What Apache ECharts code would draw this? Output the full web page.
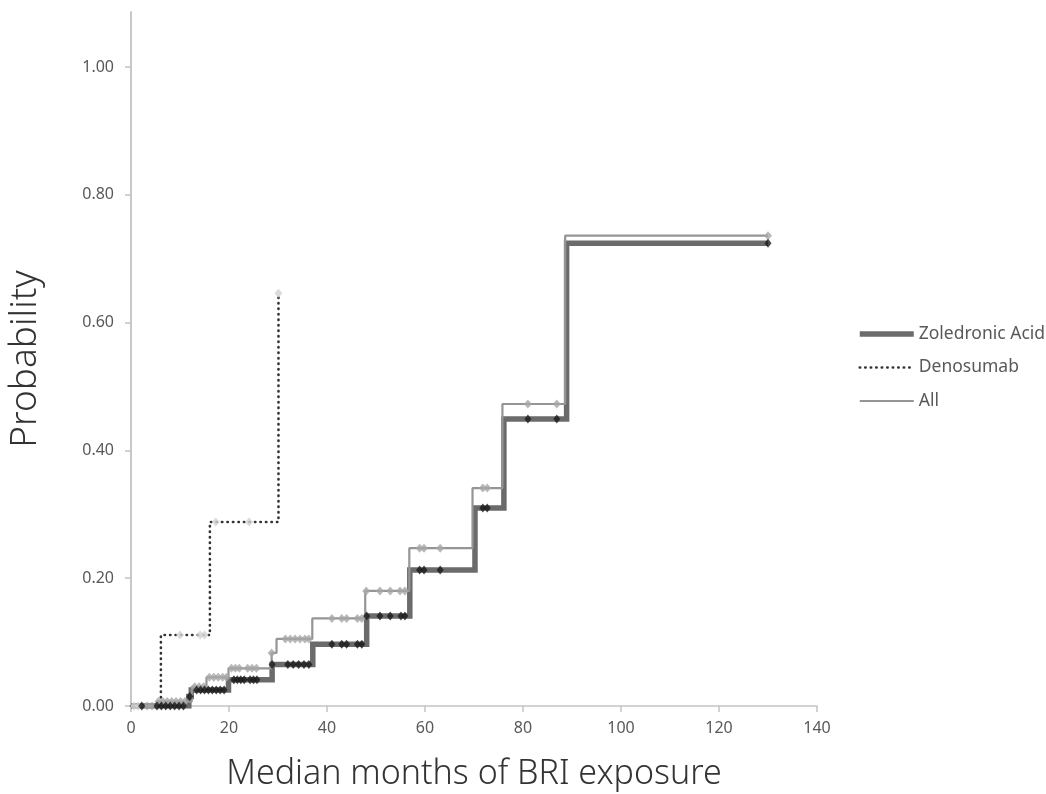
<!DOCTYPE html>
<html>
<head>
<meta charset="utf-8">
<script src="https://cdn.jsdelivr.net/npm/echarts@6/dist/echarts.min.js"></script>
<style>
html,body{margin:0;padding:0;background:#fff;}
#chart{width:1046px;height:794px;}
</style>
</head>
<body>
<div id="chart"></div>
<script>
// ---- data (months, cumulative probability) ----
const seriesNames = ['Zoledronic Acid', 'Denosumab', 'All'];
const xTicks = [0, 20, 40, 60, 80, 100, 120, 140];
const yTicks = [0, 0.2, 0.4, 0.6, 0.8, 1.0];

// step curves: [month at which value changes, new value]
const zolSteps = [[0,0],[11.8,0.015],[12.3,0.025],[19.9,0.041],[28.8,0.065],[37.1,0.0965],[48.1,0.141],[56.9,0.213],[70.2,0.310],[76.1,0.449],[88.9,0.724],[130,0.724]];
const denoSteps = [[0,0],[6.1,0.111],[16.1,0.288],[30.1,0.646]];
const allSteps = [[0,0],[5.4,0.007],[12.4,0.030],[15.4,0.045],[19.9,0.059],[28.7,0.083],[29.7,0.105],[37.0,0.137],[47.8,0.180],[56.8,0.247],[69.7,0.341],[75.8,0.4726],[88.6,0.736],[130,0.736]];

// censored observations (markers)
const zolCensored = [[2.2,0],[5.3,0],[6.2,0],[7.1,0],[8.0,0],[8.9,0],[9.8,0],[10.7,0],[12.0,0.015],
  [13.4,0.025],[14.2,0.025],[15.0,0.025],[15.8,0.025],[16.6,0.025],[17.4,0.025],[18.2,0.025],[19.0,0.025],
  [21.0,0.041],[21.7,0.041],[22.4,0.041],[23.1,0.041],[24.3,0.041],[25.0,0.041],[25.7,0.041],
  [28.8,0.065],[32.0,0.065],[33.1,0.065],[34.2,0.065],[35.3,0.065],[36.3,0.065],
  [41.0,0.0965],[43.0,0.0965],[44.0,0.0965],[46.2,0.0965],[47.1,0.0965],
  [48.1,0.141],[50.8,0.141],[52.9,0.141],[55.1,0.141],[55.9,0.141],
  [58.9,0.213],[59.8,0.213],[63.1,0.213],
  [71.8,0.310],[72.7,0.310],
  [81.0,0.449],[86.9,0.449],
  [130,0.724]];
const denoCensored = [[0.6,0],[1.5,0],[10.0,0.111],[14.1,0.111],[15.0,0.111],[17.3,0.288],[24.1,0.288],[30.1,0.646]];
const allCensored = [[3.3,0],[4.3,0],[5.6,0.007],[6.5,0.007],[7.4,0.007],[8.3,0.007],[9.2,0.007],[10.1,0.007],[11.0,0.007],
  [13.0,0.030],[13.9,0.030],[14.8,0.030],
  [16.0,0.045],[16.9,0.045],[17.8,0.045],[18.7,0.045],[19.5,0.045],
  [20.5,0.059],[21.3,0.059],[22.1,0.059],[23.8,0.059],[24.7,0.059],[25.6,0.059],
  [28.7,0.083],
  [31.5,0.105],[32.5,0.105],[33.5,0.105],[34.5,0.105],[35.5,0.105],[36.3,0.105],
  [41.0,0.137],[43.0,0.137],[44.0,0.137],[46.2,0.137],[47.1,0.137],
  [48.0,0.180],[50.8,0.180],[52.9,0.180],[54.9,0.180],[55.9,0.180],
  [58.9,0.247],[59.8,0.247],[63.1,0.247],
  [71.8,0.341],[72.7,0.341],
  [81.0,0.4726],[86.9,0.4726],
  [130,0.736]];

const FONT = 'Noto Sans';
const zolLine = {color: '#6b6b6b', width: 5.5, cap: 'butt', join: 'miter'};
const denoLine = {color: '#333333', width: 2.6, type: [0.4, 5.1], cap: 'round'};
const allLine = {color: '#959595', width: 2.2};

const chart = echarts.init(document.getElementById('chart'), null, {renderer: 'canvas'});
chart.setOption({
  backgroundColor: '#ffffff',
  animation: false,
  grid: {left: 131, right: 229, top: 12, bottom: 88, containLabel: false, outerBoundsMode: 'none'},
  legend: {
    data: [
      {name: seriesNames[0], lineStyle: zolLine},
      {name: seriesNames[1], lineStyle: denoLine},
      {name: seriesNames[2], lineStyle: allLine}
    ],
    orient: 'vertical',
    left: 857,
    top: 325,
    padding: 0,
    itemWidth: 54,
    itemHeight: 18,
    itemGap: 15.5,
    textStyle: {fontFamily: FONT, fontSize: 17.5, color: '#595959'},
    itemStyle: {opacity: 0}
  },
  xAxis: {
    type: 'value', min: 0, max: 140, interval: 20,
    name: 'Median months of BRI exposure',
    nameLocation: 'middle', nameGap: 51,
    nameTextStyle: {fontFamily: FONT, fontSize: 34, fontWeight: 300, color: '#333333'},
    axisLine: {show: true, lineStyle: {color: '#c4c4c4', width: 1.5}},
    axisTick: {show: true, length: 6, lineStyle: {color: '#c4c4c4', width: 1.5}, customValues: xTicks},
    axisLabel: {fontFamily: FONT, fontSize: 16, color: '#595959', margin: 14, customValues: xTicks},
    splitLine: {show: false}
  },
  yAxis: {
    type: 'value', min: 0, max: 1.086,
    name: 'Probability',
    nameLocation: 'middle', nameGap: 87, nameRotate: 90,
    nameTextStyle: {fontFamily: FONT, fontSize: 37, fontWeight: 300, color: '#333333'},
    axisLine: {show: true, lineStyle: {color: '#c8c8c8', width: 2}},
    axisTick: {show: true, length: 6, lineStyle: {color: '#c4c4c4', width: 1.5}, customValues: yTicks},
    axisLabel: {fontFamily: FONT, fontSize: 16, color: '#595959', margin: 17, customValues: yTicks,
      formatter: v => v.toFixed(2)},
    splitLine: {show: false}
  },
  series: [
    {name: 'Zoledronic Acid', type: 'line', step: 'end', symbol: 'none', data: zolSteps, z: 2,
      lineStyle: zolLine, itemStyle: {color: '#6b6b6b'}},
    {name: 'Denosumab', type: 'line', step: 'end', symbol: 'none', data: denoSteps, z: 3,
      lineStyle: denoLine, itemStyle: {color: '#333333'}},
    {name: 'All', type: 'line', step: 'end', symbol: 'none', data: allSteps, z: 3,
      lineStyle: allLine, itemStyle: {color: '#959595'}},
    {name: 'zol-censored', type: 'scatter', data: zolCensored, symbol: 'diamond', symbolSize: [7, 9], z: 5,
      itemStyle: {color: '#1a1a1a'}},
    {name: 'all-censored', type: 'scatter', data: allCensored, symbol: 'diamond', symbolSize: [8, 9], z: 4,
      itemStyle: {color: '#a6a6a6'}},
    {name: 'deno-censored', type: 'scatter', data: denoCensored, symbol: 'diamond', symbolSize: [8, 9], z: 4,
      itemStyle: {color: '#d2d2d2'}}
  ]
});
</script>
</body>
</html>
